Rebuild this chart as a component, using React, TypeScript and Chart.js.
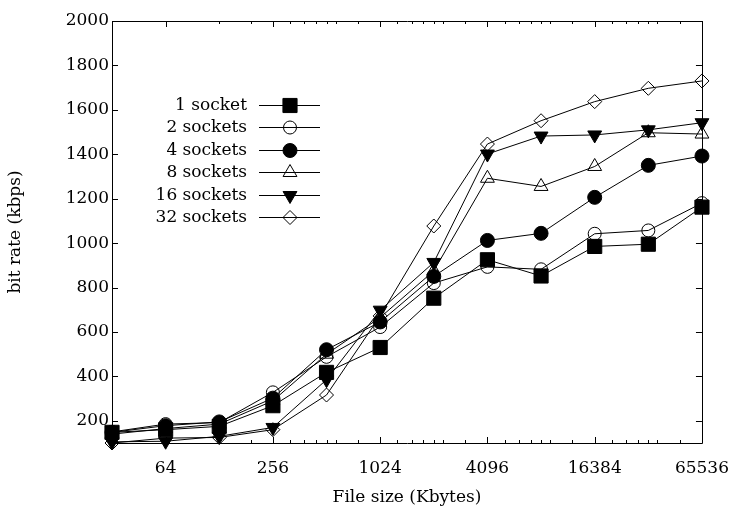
import React, { useEffect, useRef } from 'react';
import { Chart, registerables } from 'chart.js';
import { drawPoint } from 'chart.js/helpers';

Chart.register(...registerables);

// File sizes (Kbytes)
const fileSizes = [32, 64, 128, 256, 512, 1024, 2048, 4096, 8192, 16384, 32768, 65536];

// Bit rates (kbps) per number of sockets
const socket1 = [148, 160, 175, 268, 418, 530, 752, 925, 852, 985, 995, 1162];
const sockets2 = [150, 185, 192, 328, 488, 622, 820, 893, 882, 1042, 1057, 1180];
const sockets4 = [148, 178, 195, 302, 520, 645, 850, 1012, 1044, 1206, 1350, 1392];
const sockets8 = [140, 165, 185, 290, 500, 665, 875, 1292, 1255, 1345, 1497, 1491];
const sockets16 = [105, 108, 130, 170, 385, 698, 913, 1401, 1482, 1487, 1510, 1542];
const sockets32 = [100, 122, 125, 160, 316, 672, 1077, 1446, 1551, 1637, 1697, 1730];

const seriesLabels = ['1 socket', '2 sockets', '4 sockets', '8 sockets', '16 sockets', '32 sockets'];

// Axis ticks
const xTickValues = [64, 256, 1024, 4096, 16384, 65536];
const xMinorTickValues = [
  128, 192,
  320, 384, 448, 512, 576, 768,
  1280, 1536, 1792, 2048, 2304, 3072,
  5120, 6144, 7168, 8192, 9216, 12288,
  20480, 24576, 28672, 32768, 36864, 49152,
];
const yTickValues = [200, 400, 600, 800, 1000, 1200, 1400, 1600, 1800, 2000];

const FONT_FAMILY = '"DejaVu Serif", serif';
const FONT_SIZE = 17;

const markerStyles = [
  { pointStyle: 'rect', radius: 10, fill: '#000', rotation: 0 },
  { pointStyle: 'circle', radius: 6.5, fill: 'rgba(0,0,0,0)', rotation: 0 },
  { pointStyle: 'circle', radius: 7, fill: '#000', rotation: 0 },
  { pointStyle: 'triangle', radius: 8, fill: 'rgba(0,0,0,0)', rotation: 0 },
  { pointStyle: 'triangle', radius: 8, fill: '#000', rotation: 180 },
  { pointStyle: 'rectRot', radius: 7, fill: 'rgba(0,0,0,0)', rotation: 0 },
];

const seriesValues = [socket1, sockets2, sockets4, sockets8, sockets16, sockets32];

const framePlugin = {
  id: 'gnuplotFrame',
  afterDraw(chart: any) {
    const { ctx, chartArea } = chart;
    const { left, right, top, bottom } = chartArea;
    const xs = chart.scales.x;
    const ys = chart.scales.y;
    ctx.save();
    ctx.strokeStyle = '#000';
    ctx.lineWidth = 1;
    ctx.beginPath();
    ctx.rect(Math.round(left) + 0.5, Math.round(top) + 0.5, Math.round(right - left), Math.round(bottom - top));
    ctx.stroke();
    ctx.beginPath();
    const tick = (px: number, len: number) => {
      const x = Math.round(px) + 0.5;
      ctx.moveTo(x, bottom);
      ctx.lineTo(x, bottom - len);
      ctx.moveTo(x, top);
      ctx.lineTo(x, top + len);
    };
    xTickValues.forEach((v) => tick(xs.getPixelForValue(v), 6));
    xMinorTickValues.forEach((v) => tick(xs.getPixelForValue(v), 3));
    yTickValues.forEach((v) => {
      const y = Math.round(ys.getPixelForValue(v)) + 0.5;
      ctx.moveTo(left, y);
      ctx.lineTo(left + 6, y);
      ctx.moveTo(right, y);
      ctx.lineTo(right - 6, y);
    });
    ctx.stroke();

    // Legend (gnuplot style)
    ctx.font = `${FONT_SIZE}px ${FONT_FAMILY}`;
    ctx.textAlign = 'right';
    ctx.textBaseline = 'middle';
    chart.data.datasets.forEach((ds: any, i: number) => {
      const y = 104.5 + i * 22.5;
      ctx.fillStyle = '#000';
      ctx.fillText(ds.label, 247, y + 1);
      ctx.beginPath();
      ctx.moveTo(259, Math.round(y) + 0.5);
      ctx.lineTo(320, Math.round(y) + 0.5);
      ctx.strokeStyle = '#000';
      ctx.lineWidth = 1;
      ctx.stroke();
      const m = markerStyles[i];
      ctx.fillStyle = m.fill;
      ctx.strokeStyle = '#000';
      drawPoint(ctx, { pointStyle: m.pointStyle as any, rotation: m.rotation, radius: m.radius, borderWidth: 1 } as any, 290, Math.round(y) + 0.5);
    });
    ctx.restore();
  },
};

export default function App() {
  const ref = useRef<HTMLCanvasElement>(null);
  useEffect(() => {
    const font = { family: FONT_FAMILY, size: FONT_SIZE };
    const datasets = seriesValues.map((vals, i) => {
      const m = markerStyles[i];
      return {
        label: seriesLabels[i],
        data: fileSizes.map((x, j) => ({ x, y: vals[j] })),
        borderColor: '#000',
        borderWidth: 1,
        backgroundColor: m.fill,
        pointStyle: m.pointStyle,
        pointRadius: m.radius,
        pointRotation: m.rotation,
        pointBackgroundColor: m.fill,
        pointBorderColor: '#000',
        pointBorderWidth: 1,
        tension: 0,
        fill: false,
        clip: false,
      };
    });
    const chart = new Chart(ref.current!, {
      type: 'line',
      data: { datasets: datasets as any },
      options: {
        animation: false,
        responsive: false,
        devicePixelRatio: 1,
        layout: { padding: { left: 0, right: 29, top: 21, bottom: 0 } },
        plugins: { legend: { display: false }, tooltip: { enabled: false } },
        scales: {
          x: {
            type: 'logarithmic',
            min: 32,
            max: 65536,
            position: 'bottom',
            grid: {
              display: true,
              drawOnChartArea: false,
              drawTicks: true,
              tickLength: 13,
              color: 'rgba(0,0,0,0)',
              tickColor: 'rgba(0,0,0,0)',
            },
            border: { display: false },
            ticks: {
              autoSkip: false,
              maxRotation: 0,
              minRotation: 0,
              padding: 2,
              color: '#000',
              font,
              callback: (v: any) => String(v),
            },
            afterBuildTicks: (s: any) => {
              s.ticks = xTickValues.map((v) => ({ value: v }));
            },
            afterFit: (s: any) => {
              s.height = 71;
            },
            title: {
              display: true,
              text: 'File size (Kbytes)',
              color: '#000',
              font,
              padding: { top: 0, bottom: 6 },
            },
          },
          y: {
            type: 'linear',
            min: 100,
            max: 2000,
            grid: { display: false, drawTicks: false },
            border: { display: false },
            ticks: { padding: 3, color: '#000', font, callback: (v: any) => String(v) },
            afterBuildTicks: (s: any) => {
              s.ticks = yTickValues.map((v) => ({ value: v }));
            },
            afterFit: (s: any) => {
              s.width = 112;
            },
            title: {
              display: true,
              text: 'bit rate (kbps)',
              color: '#000',
              font,
              padding: { top: 5, bottom: 0 },
            },
          },
        },
      },
      plugins: [framePlugin],
    } as any);
    return () => chart.destroy();
  }, []);
  return (
    <div style={{ position: 'absolute', left: 0, top: 0, width: 731, height: 514, background: '#fff' }}>
      <canvas ref={ref} width={731} height={514} style={{ display: 'block' }} />
    </div>
  );
}
